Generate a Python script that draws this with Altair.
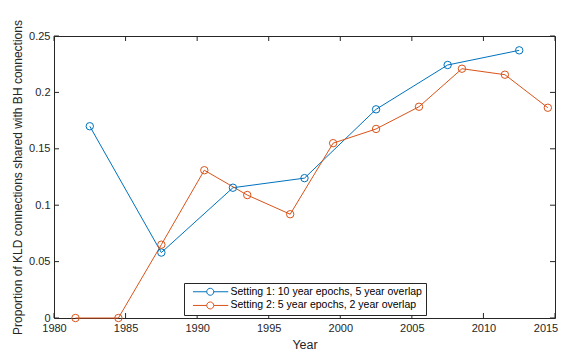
import altair as alt
import pandas as pd

series_names = [
    "Setting 1: 10 year epochs, 5 year overlap",
    "Setting 2: 5 year epochs, 2 year overlap",
]
s1_years = [1982.5, 1987.5, 1992.5, 1997.5, 2002.5, 2007.5, 2012.5]
s1_vals = [0.170, 0.058, 0.1155, 0.124, 0.185, 0.2243, 0.2373]
s2_years = [1981.5, 1984.5, 1987.5, 1990.5, 1993.5, 1996.5, 1999.5,
            2002.5, 2005.5, 2008.5, 2011.5, 2014.5]
s2_vals = [0.0, 0.0, 0.065, 0.131, 0.109, 0.092, 0.155,
           0.1676, 0.1873, 0.221, 0.2157, 0.1864]
x_ticks = [1980, 1985, 1990, 1995, 2000, 2005, 2010, 2015]
y_ticks = [0, 0.05, 0.1, 0.15, 0.2, 0.25]
colors = ["#0072BD", "#D95319"]

W, H = 501, 282
AX = "#262626"
FONT = "Liberation Sans"

df = pd.concat([
    pd.DataFrame({"year": s1_years, "value": s1_vals, "series": series_names[0]}),
    pd.DataFrame({"year": s2_years, "value": s2_vals, "series": series_names[1]}),
])

xscale = alt.Scale(domain=[1980, 2015], nice=False, zero=False)
yscale = alt.Scale(domain=[0, 0.25], nice=False)

legend = alt.Legend(
    title=None,
    orient="none",
    legendX=130,
    legendY=247,
    padding=3.5,
    strokeColor=AX,
    fillColor="white",
    labelFont=FONT,
    labelFontSize=10.5,
    labelColor="#000000",
    labelLimit=0,
    symbolType="M0.05,0L3.5,0M5.25,0L8.875,0M5.25,0A0.875,0.875,0,1,1,3.5,0A0.875,0.875,0,1,1,5.25,0",
    symbolSize=64,
    symbolStrokeWidth=1,
    labelOffset=32.5,
    rowPadding=1.7,
)

color = alt.Color("series:N", scale=alt.Scale(domain=series_names, range=colors), legend=legend)

x_enc = alt.X("year:Q", scale=xscale,
              axis=alt.Axis(values=x_ticks, format="d", title="Year", titleFontSize=12.5,
                            titlePadding=5, labelFlush=False,
                            labelOffset={"condition": {"test": "datum.value == 2015", "value": -9.5},
                                         "value": 0}))
y_enc = alt.Y("value:Q", scale=yscale,
              axis=alt.Axis(values=y_ticks, format="~g",
                            title="Proportion of KLD connections shared with BH connections",
                            titleFontSize=12, titlePadding=4, labelFlush=False))

base = alt.Chart(df)
lines = base.mark_line(strokeWidth=1).encode(x=x_enc, y=y_enc, color=color, order="year:Q")
points = base.mark_point(shape="circle", filled=False, size=55, strokeWidth=1, opacity=1).encode(
    x=x_enc, y=y_enc, color=color)

xt = pd.DataFrame({"t": x_ticks})
yt = pd.DataFrame({"t": y_ticks})
tick_bottom = alt.Chart(xt).mark_rule(color=AX, strokeWidth=1).encode(
    x=alt.X("t:Q", scale=xscale), y=alt.value(H), y2=alt.value(H - 5))
tick_top = alt.Chart(xt).mark_rule(color=AX, strokeWidth=1).encode(
    x=alt.X("t:Q", scale=xscale), y=alt.value(0), y2=alt.value(5))
tick_left = alt.Chart(yt).mark_rule(color=AX, strokeWidth=1).encode(
    y=alt.Y("t:Q", scale=yscale), x=alt.value(0), x2=alt.value(5))
tick_right = alt.Chart(yt).mark_rule(color=AX, strokeWidth=1).encode(
    y=alt.Y("t:Q", scale=yscale), x=alt.value(W), x2=alt.value(W - 5))

chart = alt.layer(lines, points, tick_bottom, tick_top, tick_left, tick_right).properties(
    width=W, height=H,
    autosize=alt.AutoSizeParams(type="none"),
    padding={"left": 46, "top": 28, "right": 4, "bottom": 33},
    background="white",
).configure_view(
    stroke=AX, strokeWidth=1
).configure_axis(
    ticks=False, domain=False, grid=False,
    labelFont=FONT, titleFont=FONT, labelFontSize=11,
    labelColor=AX, titleColor=AX, titleFontWeight="normal",
    labelPadding=4,
)

chart.save("out.html", embed_options={"renderer": "svg", "actions": False})
